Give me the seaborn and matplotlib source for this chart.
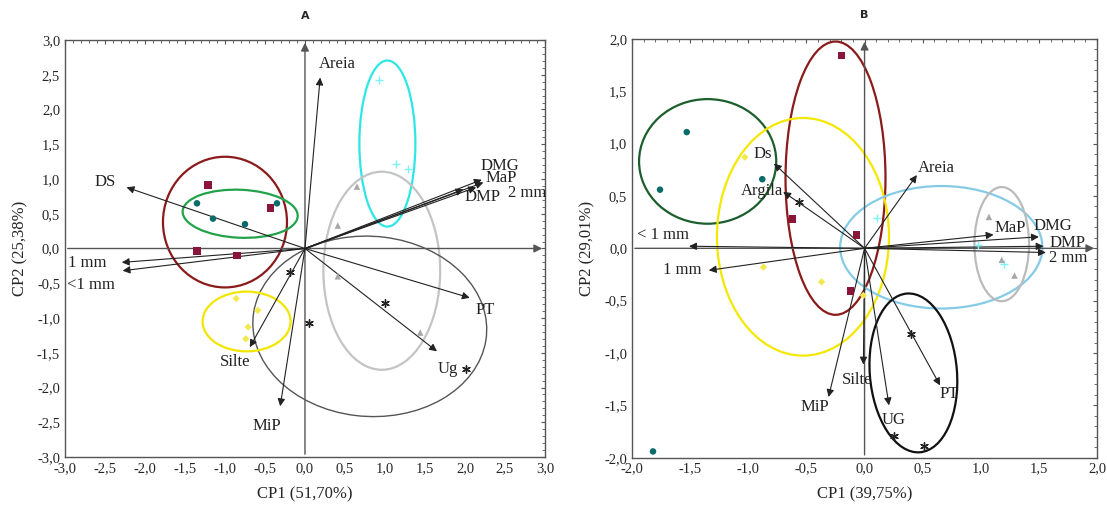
import matplotlib
matplotlib.use("Agg")
import matplotlib.pyplot as plt
import seaborn as sns
import pandas as pd
import numpy as np
from matplotlib.patches import Ellipse
from matplotlib.ticker import FuncFormatter, MultipleLocator

# ---------------- data: panel A ----------------
A_vars = ["Areia", "DS", "1 mm", "<1 mm", "DMG", "MaP", "DMP", "2 mm", "PT", "Ug", "Silte", "MiP"]
A_tip_x = [0.19, -2.23, -2.29, -2.28, 2.21, 2.23, 1.98, 2.14, 2.06, 1.65, -0.69, -0.31]
A_tip_y = [2.46, 0.88, -0.20, -0.32, 0.99, 0.95, 0.85, 0.88, -0.71, -1.48, -1.42, -2.27]
A_lab_x = [0.41, -2.50, -2.72, -2.68, 2.44, 2.45, 2.22, 2.78, 2.25, 1.78, -0.87, -0.48]
A_lab_y = [2.65, 0.95, -0.21, -0.52, 1.19, 1.02, 0.74, 0.80, -0.88, -1.74, -1.63, -2.56]

A_pts = {
    "maroon": ([-1.21, -0.43, -1.35, -0.85], [0.91, 0.58, -0.04, -0.10]),
    "teal":   ([-1.35, -1.15, -0.75, -0.35], [0.65, 0.43, 0.35, 0.65]),
    "cyan":   ([0.93, 1.14, 1.29], [2.43, 1.22, 1.15]),
    "lgray":  ([0.65, 0.41, 0.41, 1.44], [0.89, 0.33, -0.40, -1.21]),
    "black":  ([-0.19, 0.05, 1.00, 2.01], [-0.34, -1.07, -0.78, -1.74]),
    "yellow": ([-0.86, -0.59, -0.71, -0.74], [-0.72, -0.89, -1.13, -1.30]),
}
A_ell_cx = [-1.00, -0.81, 1.03, 0.96, 0.81, -0.73]
A_ell_cy = [0.38, 0.50, 1.51, -0.32, -1.12, -1.05]
A_ell_w = [1.55, 1.44, 0.70, 1.46, 2.93, 1.10]
A_ell_h = [1.88, 0.69, 2.39, 2.85, 2.59, 0.86]
A_ell_ang = [0, -3, 0, 0, -8, 0]
A_ell_col = ["#8B1A1A", "#22A34A", "#2EE6E6", "#C4C4C4", "#555555", "#F2E600"]

# ---------------- data: panel B ----------------
B_vars = ["Ds", "Argila", "< 1 mm", "1 mm", "Areia", "MaP", "DMG", "DMP", "2 mm", "Silte", "MiP", "UG", "PT"]
B_tip_x = [-0.78, -0.70, -1.51, -1.34, 0.45, 1.11, 1.50, 1.54, 1.56, -0.01, -0.31, 0.21, 0.65]
B_tip_y = [0.81, 0.54, 0.02, -0.21, 0.70, 0.13, 0.11, 0.02, -0.04, -1.11, -1.42, -1.50, -1.31]
B_lab_x = [-0.88, -0.88, -1.73, -1.57, 0.62, 1.25, 1.62, 1.75, 1.75, -0.06, -0.43, 0.25, 0.73]
B_lab_y = [0.90, 0.55, 0.13, -0.21, 0.77, 0.19, 0.21, 0.05, -0.09, -1.26, -1.52, -1.64, -1.39]

B_pts = {
    "maroon": ([-0.20, -0.62, -0.07, -0.12], [1.84, 0.28, 0.13, -0.41]),
    "teal":   ([-1.53, -1.76, -0.88, -1.82], [1.11, 0.56, 0.66, -1.94]),
    "cyan":   ([0.11, 0.98, 1.20], [0.29, 0.03, -0.15]),
    "lgray":  ([1.07, 1.18, 1.29], [0.30, -0.11, -0.26]),
    "black":  ([-0.56, 0.40, 0.25, 0.51], [0.44, -0.82, -1.79, -1.89]),
    "yellow": ([-1.03, -0.87, -0.37, -0.01], [0.87, -0.18, -0.32, -0.45]),
}
B_ell_cx = [-1.35, -0.25, -0.53, 0.66, 1.18, 0.42]
B_ell_cy = [0.83, 0.67, 0.11, 0.01, 0.04, -1.19]
B_ell_w = [1.18, 0.86, 1.48, 1.74, 0.47, 0.75]
B_ell_h = [1.19, 2.61, 2.27, 1.17, 1.09, 1.52]
B_ell_ang = [0, 0, 0, 0, 0, 4]
B_ell_col = ["#1C5E2C", "#8B1A1A", "#F5E800", "#86CBE6", "#BBBBBB", "#111111"]

marker_of = {"maroon": "s", "teal": "o", "cyan": "+", "lgray": "^", "black": (6, 2, 0), "yellow": "D"}
color_of = {"maroon": "#8B1538", "teal": "#0A6B6B", "cyan": "#7FF2F2", "lgray": "#A8A8A8",
            "black": "#222222", "yellow": "#F2E94E"}
size_of = {"maroon": 30, "teal": 22, "cyan": 30, "lgray": 22, "black": 30, "yellow": 14}

# ---------------- figure ----------------
sns.set_style("white")
plt.rcParams["font.family"] = ["Liberation Serif", "DejaVu Serif"]
plt.rcParams["mathtext.default"] = "regular"

fig = plt.figure(figsize=(11.07, 5.12), dpi=100)
axA = fig.add_axes([0.0587, 0.1074, 0.4336, 0.8145])
axB = fig.add_axes([0.5710, 0.1060, 0.4200, 0.8180])

comma = FuncFormatter(lambda v, p: ("%.1f" % v).replace(".", ",").replace("-0,0", "0,0"))


def panel(ax, lim, major, minor, vars_, tx, ty, lx, ly, pts, ecx, ecy, ew, eh, eang, ecol,
          xlabel, ylabel, title):
    ax.set_xlim(-lim, lim)
    ax.set_ylim(-lim, lim)
    ax.annotate("", xy=(0, lim), xytext=(0, -lim),
                arrowprops=dict(arrowstyle="-|>", color="#555555", lw=1.0, mutation_scale=12))
    ax.annotate("", xy=(lim, 0), xytext=(-lim, 0),
                arrowprops=dict(arrowstyle="-|>", color="#555555", lw=1.0, mutation_scale=12))
    for cx, cy, w, h, a, c in zip(ecx, ecy, ew, eh, eang, ecol):
        ax.add_patch(Ellipse((cx, cy), w, h, angle=a, fill=False, edgecolor=c,
                             lw=1.6 if c != "#555555" else 1.0))
    for g, (xs, ys) in pts.items():
        df = pd.DataFrame({"x": xs, "y": ys})
        sns.scatterplot(data=df, x="x", y="y", ax=ax, marker=marker_of[g], color=color_of[g],
                        s=size_of[g], linewidth=1.0 if g in ("cyan", "black") else 0,
                        edgecolor=color_of[g] if g in ("cyan", "black") else "none", zorder=4)
    for name, x, y, xl, yl in zip(vars_, tx, ty, lx, ly):
        ax.annotate("", xy=(x, y), xytext=(0, 0),
                    arrowprops=dict(arrowstyle="-|>", color="#222222", lw=0.8,
                                    mutation_scale=11, shrinkA=0, shrinkB=0))
        ax.text(xl, yl, name, fontsize=12, ha="center", va="center", color="#222222", zorder=6)
    ax.xaxis.set_major_locator(MultipleLocator(major))
    ax.yaxis.set_major_locator(MultipleLocator(major))
    ax.xaxis.set_minor_locator(MultipleLocator(minor))
    ax.yaxis.set_minor_locator(MultipleLocator(minor))
    ax.xaxis.set_major_formatter(comma)
    ax.yaxis.set_major_formatter(comma)
    ax.tick_params(which="both", direction="in", top=True, right=True, labelsize=10.5,
                   color="#555555")
    ax.tick_params(which="major", length=3)
    ax.tick_params(which="minor", length=2)
    for s in ax.spines.values():
        s.set_color("#555555")
        s.set_linewidth(1.0)
    ax.set_xlabel(xlabel, fontsize=12, labelpad=8)
    ax.set_ylabel(ylabel, fontsize=12, labelpad=6)
    ax.set_title(title, fontsize=8, fontweight="bold", family="DejaVu Sans", pad=15)


panel(axA, 3.0, 0.5, 0.1, A_vars, A_tip_x, A_tip_y, A_lab_x, A_lab_y, A_pts,
      A_ell_cx, A_ell_cy, A_ell_w, A_ell_h, A_ell_ang, A_ell_col,
      "CP1 (51,70%)", "CP2 (25,38%)", "A")
panel(axB, 2.0, 0.5, 0.1, B_vars, B_tip_x, B_tip_y, B_lab_x, B_lab_y, B_pts,
      B_ell_cx, B_ell_cy, B_ell_w, B_ell_h, B_ell_ang, B_ell_col,
      "CP1 (39,75%)", "CP2 (29,01%)", "B")

fig.savefig("out.png", dpi=100)
